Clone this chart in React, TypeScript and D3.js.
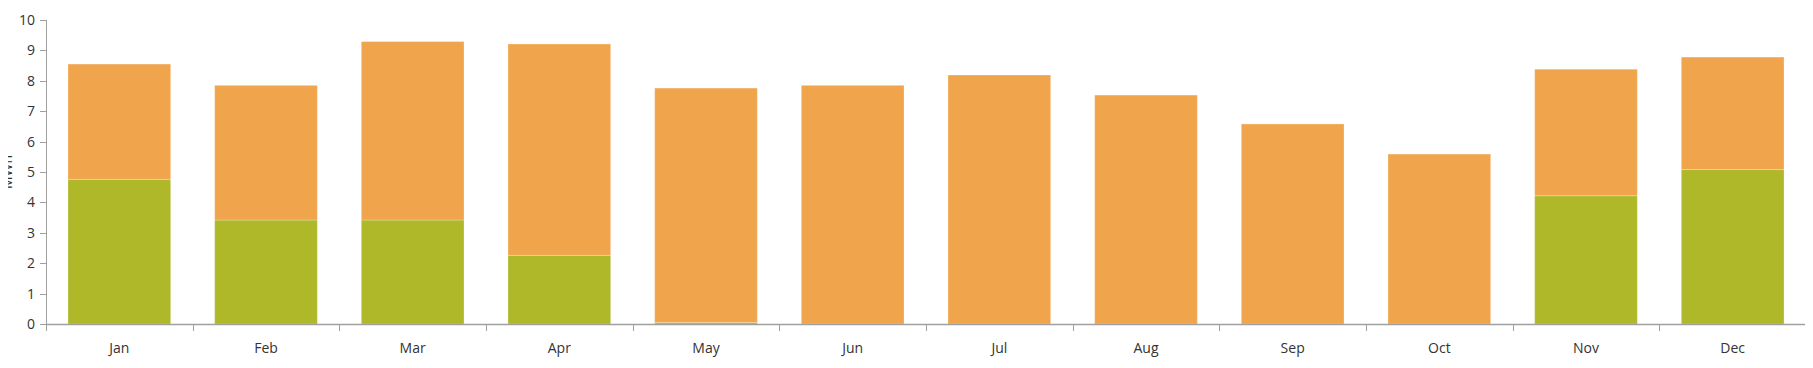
import React from "react";
import * as d3 from "d3";

const months = ["Jan", "Feb", "Mar", "Apr", "May", "Jun", "Jul", "Aug", "Sep", "Oct", "Nov", "Dec"];
const greenValues = [4.76, 3.42, 3.42, 2.26, 0.05, 0, 0, 0, 0, 0, 4.22, 5.08];
const totalValues = [8.55, 7.85, 9.29, 9.21, 7.76, 7.85, 8.19, 7.53, 6.58, 5.59, 8.38, 8.78];
const yTicks = [0, 1, 2, 3, 4, 5, 6, 7, 8, 9, 10];
const yLabel = "MWh";

const W = 1813;
const H = 368;
const M = { left: 46, right: 7, top: 20, bottom: 44 };
const GREEN = "#aeb829";
const ORANGE = "#f0a54c";
const AXIS = "#a0a0a0";
const TEXT = "#333333";
const FONT = "'Segoe UI', 'Open Sans', 'Noto Sans', sans-serif";

export default function App() {
  const x = d3
    .scaleBand<string>()
    .domain(months)
    .range([M.left, W - M.right])
    .paddingInner(0.3)
    .paddingOuter(0.15);
  const y = d3.scaleLinear().domain([0, 10]).range([H - M.bottom, M.top]);
  const step = x.step();
  const y0 = y(0);

  return (
    <svg
      width={W}
      height={H}
      style={{ display: "block", overflow: "visible", margin: "-8px 0 0 -8px" }}
      fontFamily={FONT}
    >
      {months.map((m, i) => {
        const bx = x(m)!;
        const bw = x.bandwidth();
        const g = greenValues[i];
        const t = totalValues[i];
        return (
          <g key={m}>
            {g > 0 && (
              <rect
                x={bx}
                y={y(g)}
                width={bw}
                height={y0 - y(g)}
                fill={GREEN}
                stroke="#ffffff"
                strokeOpacity={0.25}
                strokeWidth={1}
              />
            )}
            <rect
              x={bx}
              y={y(t)}
              width={bw}
              height={y(g) - y(t)}
              fill={ORANGE}
              stroke="#ffffff"
              strokeOpacity={0.25}
              strokeWidth={1}
            />
          </g>
        );
      })}
      {/* y axis */}
      <line x1={M.left + 0.5} x2={M.left + 0.5} y1={y(10)} y2={y0} stroke={AXIS} />
      {yTicks.map((v) => (
        <g key={v}>
          <line x1={M.left - 6} x2={M.left} y1={Math.round(y(v)) + 0.5} y2={Math.round(y(v)) + 0.5} stroke={AXIS} />
          <text x={M.left - 11} y={y(v)} dy="0.35em" textAnchor="end" fontSize={14} fill={TEXT}>
            {v}
          </text>
        </g>
      ))}
      {/* x axis */}
      <line x1={M.left} x2={W - M.right} y1={Math.round(y0) + 0.5} y2={Math.round(y0) + 0.5} stroke={AXIS} strokeWidth={1.5} />
      {months.map((m, i) => (
        <line
          key={"t" + m}
          x1={Math.round(M.left + i * step) + 0.5}
          x2={Math.round(M.left + i * step) + 0.5}
          y1={y0}
          y2={y0 + 7}
          stroke={AXIS}
        />
      ))}
      <line
        x1={Math.round(M.left + months.length * step) - 0.5}
        x2={Math.round(M.left + months.length * step) - 0.5}
        y1={y0}
        y2={y0 + 7}
        stroke={AXIS}
      />
      {months.map((m) => (
        <text key={"l" + m} x={x(m)! + x.bandwidth() / 2} y={y0 + 29} textAnchor="middle" fontSize={14} fill={TEXT}>
          {m}
        </text>
      ))}
      <text
        transform={`translate(12,${(y(10) + y0) / 2}) rotate(-90)`}
        textAnchor="middle"
        fontSize={14}
        fill={TEXT}
      >
        {yLabel}
      </text>
    </svg>
  );
}
